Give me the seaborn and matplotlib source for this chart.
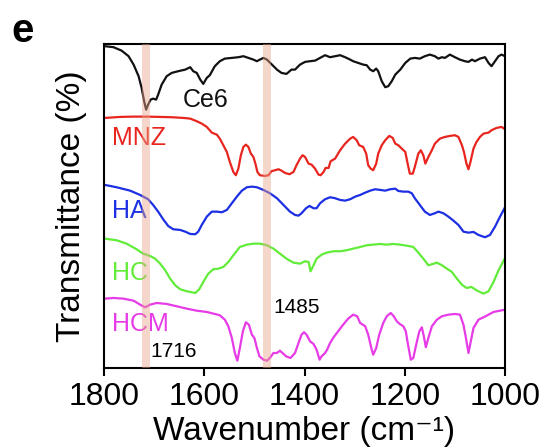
import matplotlib
matplotlib.use("Agg")
import matplotlib.pyplot as plt
import seaborn as sns
import pandas as pd

# ---------------- data ----------------
ce6_wn = [1798,1781,1765,1751,1741,1731,1725,1720,1716,1712,
          1707,1702,1696,1692,1685,1675,1665,1652,1638,1628,
          1622,1615,1608,1602,1595,1589,1579,1569,1559,1545,
          1532,1522,1512,1502,1495,1489,1482,1475,1465,1455,
          1446,1436,1426,1419,1409,1399,1389,1379,1369,1359,
          1349,1339,1329,1319,1309,1303,1293,1283,1276,1269,
          1263,1257,1253,1246,1239,1233,1226,1219,1209,1199,
          1189,1180,1170,1160,1150,1140,1133,1126,1120,1110,
          1100,1090,1080,1073,1066,1060,1050,1040,1033,1027,
          1020,1013,1007,1000]
ce6_t = [321.7,320.7,317.3,311.7,303.3,291.7,280,266.7,258.3,263.3,
         268.3,269.3,268.3,273.3,283.3,291.7,295,296.7,298.3,300.7,
         296.7,295,288.3,284,290,292.7,301.7,306.7,309.3,310,
         310.7,311.7,310,308.3,306.7,308.3,310,308.3,303.3,298.3,
         295,294,298.3,298.3,303.3,306,306.7,307.3,310,312.7,
         310.7,311.7,312.7,310.7,308.3,306.7,305,303.3,302.7,298.3,
         296.7,299.3,296.7,286.7,280.7,281.7,286.7,293.3,298.3,305,
         309.3,310,309.3,311.7,313.3,311.7,309.3,310.7,310,313.3,
         310.7,308.3,306.7,306,308.3,306.7,309.3,310.7,305,301.7,
         306.7,311.7,313.3,311.7]

mnz_wn = [1798,1768,1741,1715,1688,1665,1642,1628,1615,1605,
          1595,1585,1575,1569,1562,1555,1549,1542,1537,1532,
          1527,1522,1517,1512,1507,1502,1498,1494,1489,1479,
          1472,1466,1459,1452,1446,1439,1430,1422,1416,1409,
          1404,1399,1392,1386,1379,1372,1368,1362,1358,1352,
          1348,1339,1329,1319,1309,1303,1296,1291,1283,1277,
          1273,1268,1263,1257,1253,1246,1239,1231,1224,1219,
          1213,1206,1199,1195,1190,1184,1180,1173,1168,1163,
          1159,1153,1146,1140,1130,1120,1110,1100,1093,1086,
          1082,1077,1073,1069,1063,1057,1050,1043,1033,1027,
          1017,1007,1000]
mnz_t = [250,251,251.3,251.3,251,250.7,250,249.3,246.7,244.3,
         241,235.3,233.3,229.3,222.7,216,206,196,192.7,199.3,
         212.7,221,223.3,221,214.3,211,204.3,196,192.7,192,
         192.7,196.7,197.7,198.7,197.3,195,193.7,196,202.7,209.3,
         212.7,211,204.3,203.3,199.3,193.3,192.7,196,200,200,
         206.7,209.3,217.7,224.3,229.3,231,227.7,222.7,221,214.3,
         202.7,199.3,197.7,204.3,214.3,222.7,227.7,232,230,224.3,
         222.7,219.3,216,206,194.3,194.3,201,214.3,217.7,212.7,
         204.3,211,217.7,224.3,229.3,231,232,232.7,231,222.7,
         216,204.3,198.7,206,219.3,226,231,234.3,235.3,237.7,
         240,241,238.7]

ha_wn = [1798,1775,1748,1728,1712,1702,1692,1682,1672,1662,
         1648,1638,1628,1618,1612,1605,1595,1585,1575,1565,
         1555,1545,1535,1525,1515,1505,1495,1482,1469,1455,
         1442,1429,1419,1412,1406,1397,1390,1382,1376,1369,
         1359,1349,1339,1329,1319,1309,1299,1289,1279,1269,
         1259,1249,1239,1229,1219,1213,1203,1193,1186,1180,
         1170,1160,1150,1140,1133,1123,1113,1103,1093,1083,
         1073,1063,1053,1040,1030,1020,1010,1000]
ha_t = [183,180.7,177.3,173,168.7,163,156.3,148.7,142,138.7,
        138,136.3,134,133.7,136.3,143,151.3,156.3,156.3,155.7,
        158,164.7,171.3,177.3,180.7,181.3,180.7,178,174.7,169.7,
        163,156.3,153,152.3,154.7,159.7,162,159.7,159.7,164.7,
        168.7,170.7,169.7,168,167.3,168.7,171.3,173,175.3,177.3,
        178.7,178,177.3,178.7,179.3,177,176.3,176.3,174.7,169.7,
        163,156.3,153,154.7,156.3,154.7,151.3,147.3,143,136.3,
        135.3,136,133,130.7,133,141.3,151.3,160.7]

hc_wn = [1798,1775,1755,1735,1722,1708,1698,1688,1678,1668,
         1658,1648,1635,1618,1610,1602,1592,1582,1572,1562,
         1552,1542,1529,1515,1502,1489,1475,1462,1449,1436,
         1422,1409,1399,1392,1388,1382,1376,1366,1356,1342,
         1329,1316,1303,1289,1276,1263,1249,1236,1223,1209,
         1193,1183,1173,1163,1153,1146,1136,1126,1116,1106,
         1096,1086,1077,1067,1057,1043,1033,1023,1013,1000]
hc_t = [129.3,127.7,124.3,118.7,114.3,112,109.3,104.3,97.7,89.3,
        82.7,78.7,76.7,75,78.7,86,94.3,98.7,99.3,101,
        106,112.7,121,123.3,124.3,124.3,122.7,119.3,114.3,109.3,
        105.3,104.3,106.7,106,96.7,102.7,109.3,113.3,115.3,116.7,
        116.7,117.7,119.3,121,122.7,123.3,124,123.3,124,123.3,
        122,121,115.3,109.3,102.7,103.7,105.3,102.7,99.3,96,
        89.3,83.3,80,81,77.7,74.3,76.7,86,97.7,110]

hcm_wn = [1798,1781,1761,1741,1728,1718,1708,1695,1675,1655,
          1635,1615,1595,1579,1569,1559,1552,1545,1539,1534,
          1529,1523,1517,1511,1505,1500,1495,1490,1482,1475,
          1469,1462,1455,1449,1444,1437,1428,1419,1412,1406,
          1401,1396,1389,1382,1376,1370,1366,1359,1355,1349,
          1343,1333,1323,1313,1303,1295,1289,1279,1273,1266,
          1263,1257,1251,1243,1236,1228,1222,1216,1210,1203,
          1198,1193,1188,1183,1178,1171,1166,1162,1158,1153,
          1146,1136,1126,1113,1100,1090,1083,1078,1073,1069,
          1063,1053,1043,1033,1023,1010,1000]
hcm_t = [69.3,70,69.3,67.3,63.3,60.7,63.3,65,64,61.7,
         59.3,57.3,56,54,52.7,48.3,41.7,30,15,7.3,
         20,36.7,45.7,43.3,33.3,30,20,11.7,8.3,7.3,
         10,15,15,17.3,15,11.7,10,15,25,33.3,
         35.7,33.3,26.7,24,18.3,8.3,11.7,15,18.3,25,
         30,36.7,43.3,49.3,53.3,51.7,45,41.7,33.3,18.3,
         13.3,20,33.3,45,51.7,55,51.7,46.7,44,41.7,
         36.7,21.7,8.3,10,21.7,36.7,40.7,31.7,20.7,30,
         41.7,48.3,51.7,53.3,54,53.3,43.3,30,15,25,
         40,48.3,50.7,53.3,56,57.3,58.3]

series_names = ["Ce6", "MNZ", "HA", "HC", "HCM"]
series_colors = ["#111111", "#e8261f", "#1c2fe3", "#62ec3a", "#e63be6"]
band_centers = [1716, 1474]
band_labels = ["1716", "1485"]
x_ticks = [1800, 1600, 1400, 1200, 1000]

# ---------------- figure ----------------
sns.set_theme(style="ticks")
plt.rcParams["font.family"] = ["Liberation Sans", "DejaVu Sans"]
plt.rcParams["text.color"] = "black"
plt.rcParams["axes.labelcolor"] = "black"

fig = plt.figure(figsize=(5.46, 4.48), dpi=100)
ax = fig.add_axes([0.1905, 0.1786, 0.7345, 0.7234])

frames = []
for name, wn, t in zip(series_names,
                       [ce6_wn, mnz_wn, ha_wn, hc_wn, hcm_wn],
                       [ce6_t, mnz_t, ha_t, hc_t, hcm_t]):
    frames.append(pd.DataFrame({"wn": wn, "T": t, "sample": name}))
df = pd.concat(frames, ignore_index=True)

sns.lineplot(data=df, x="wn", y="T", hue="sample", hue_order=series_names,
             palette=series_colors, estimator=None, sort=True,
             linewidth=1.6, legend=False, ax=ax)

for c in band_centers:
    ax.axvspan(c - 8, c + 8, color="#e9a58c", alpha=0.45, lw=0, zorder=5)

ax.set_xlim(1800, 1000)
ax.set_ylim(0, 324)
ax.set_xticks(x_ticks)
ax.set_yticks([])
ax.tick_params(axis="x", labelsize=23, length=6, width=1.5, direction="out",
               pad=4, color="black", labelcolor="black")
for sp in ax.spines.values():
    sp.set_visible(True)
    sp.set_linewidth(1.5)
    sp.set_color("black")

ax.set_xlabel("Wavenumber (cm\u207b\u00b9)", fontsize=24, labelpad=3, color="black")
ax.set_ylabel("Transmittance (%)", fontsize=24, labelpad=12, color="black")

label_pos = {"Ce6": (1643, 268), "MNZ": (1784, 230), "HA": (1784, 157),
             "HC": (1784, 95), "HCM": (1784, 44)}
for name, col in zip(series_names, series_colors):
    x, y = label_pos[name]
    ax.text(x, y, name, color=col, fontsize=18, ha="left", va="center")

ax.text(1462, 60.5, band_labels[1], fontsize=15, ha="left", va="center", color="black")
ax.text(1708, 16, band_labels[0], fontsize=15, ha="left", va="center", color="black")

fig.text(0.02, 0.93, "e", fontsize=29, fontweight="bold", ha="left", va="center",
         color="black")

fig.savefig("out.png", dpi=100)
